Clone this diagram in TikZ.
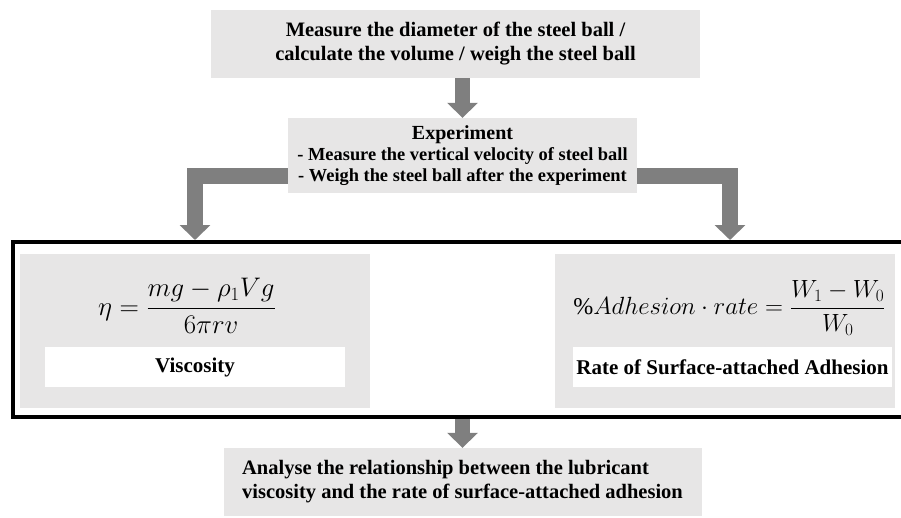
\documentclass[tikz,border=0pt]{standalone}
\usepackage{fontspec}
\setmainfont{Liberation Serif}
\usepackage{amsmath}
\usepackage{tikz}
\usetikzlibrary{arrows.meta,positioning}

\definecolor{boxgray}{HTML}{E7E6E6}
\definecolor{arrowgray}{HTML}{7F7F7F}

\begin{document}
\begin{tikzpicture}[x=1pt,y=-1pt,
    graybox/.style={fill=boxgray,inner sep=0pt,align=center,font=\bfseries\fontsize{20.5}{24}\selectfont},
    labelbox/.style={fill=white,inner sep=0pt,minimum height=40pt,font=\bfseries\fontsize{21}{24}\selectfont},
    blockarrow/.style={draw=arrowgray,line width=15.5pt,line join=miter,
        -{Triangle[length=15pt,width=30pt]}}]
    \useasboundingbox (0,0) rectangle (901,517);
    \clip (0,0) rectangle (901,517);
    % first step
    \node[graybox,minimum width=489pt,minimum height=68pt] (measure) at (455.5,44)
        {Measure the diameter of the steel ball /\\calculate the volume / weigh the steel ball};
    \node[graybox,minimum width=349pt,minimum height=75pt,font=\bfseries\fontsize{18.4}{21}\selectfont] (exp) at (462.5,155.5)
        {{\fontsize{20}{21}\selectfont Experiment}\\- Measure the vertical velocity of steel ball\\- Weigh the steel ball after the experiment};
    % results frame
    \node[draw,line width=4pt,minimum width=895pt,minimum height=175pt,inner sep=0pt] (frame) at (460,329.5) {};
    \node[graybox,minimum width=350pt,minimum height=154pt] (visc) at (195,331) {};
    \node[labelbox,minimum width=300pt] (visclabel) at (195,367) {Viscosity};
    \node[font=\fontsize{24}{28}\selectfont,scale=1.08,transform shape] (viscform) at (187,306)
        {$\eta=\dfrac{mg-\rho_1 Vg}{6\pi rv}$};
    \node[graybox,minimum width=340pt,minimum height=154pt] (adh) at (725,331) {};
    \node[labelbox,minimum width=319pt] (adhlabel) at (732.5,367) {Rate of Surface-attached Adhesion};
    \node[font=\fontsize{24}{28}\selectfont] (adhform) at (729.5,308)
        {$\%Adhesion\cdot rate=\dfrac{W_1-W_0}{W_0}$};
    % last step
    \node[graybox,minimum width=478pt,minimum height=68pt,align=left] (analyse) at (462.5,482)
        {Analyse the relationship between the lubricant\\viscosity and the rate of surface-attached adhesion};
    % arrows
    \coordinate (lefttip) at (195,0 |- frame.north);
    \coordinate (righttip) at (730,0 |- frame.north);
    \draw[blockarrow] (measure.south -| exp.north) -- (exp.north);
    \draw[blockarrow] ([yshift=-20.5pt]exp.west) -| (lefttip);
    \draw[blockarrow] ([yshift=-20.5pt]exp.east) -| (righttip);
    \draw[blockarrow] (analyse.north |- frame.south) -- (analyse.north);
\end{tikzpicture}
\end{document}
